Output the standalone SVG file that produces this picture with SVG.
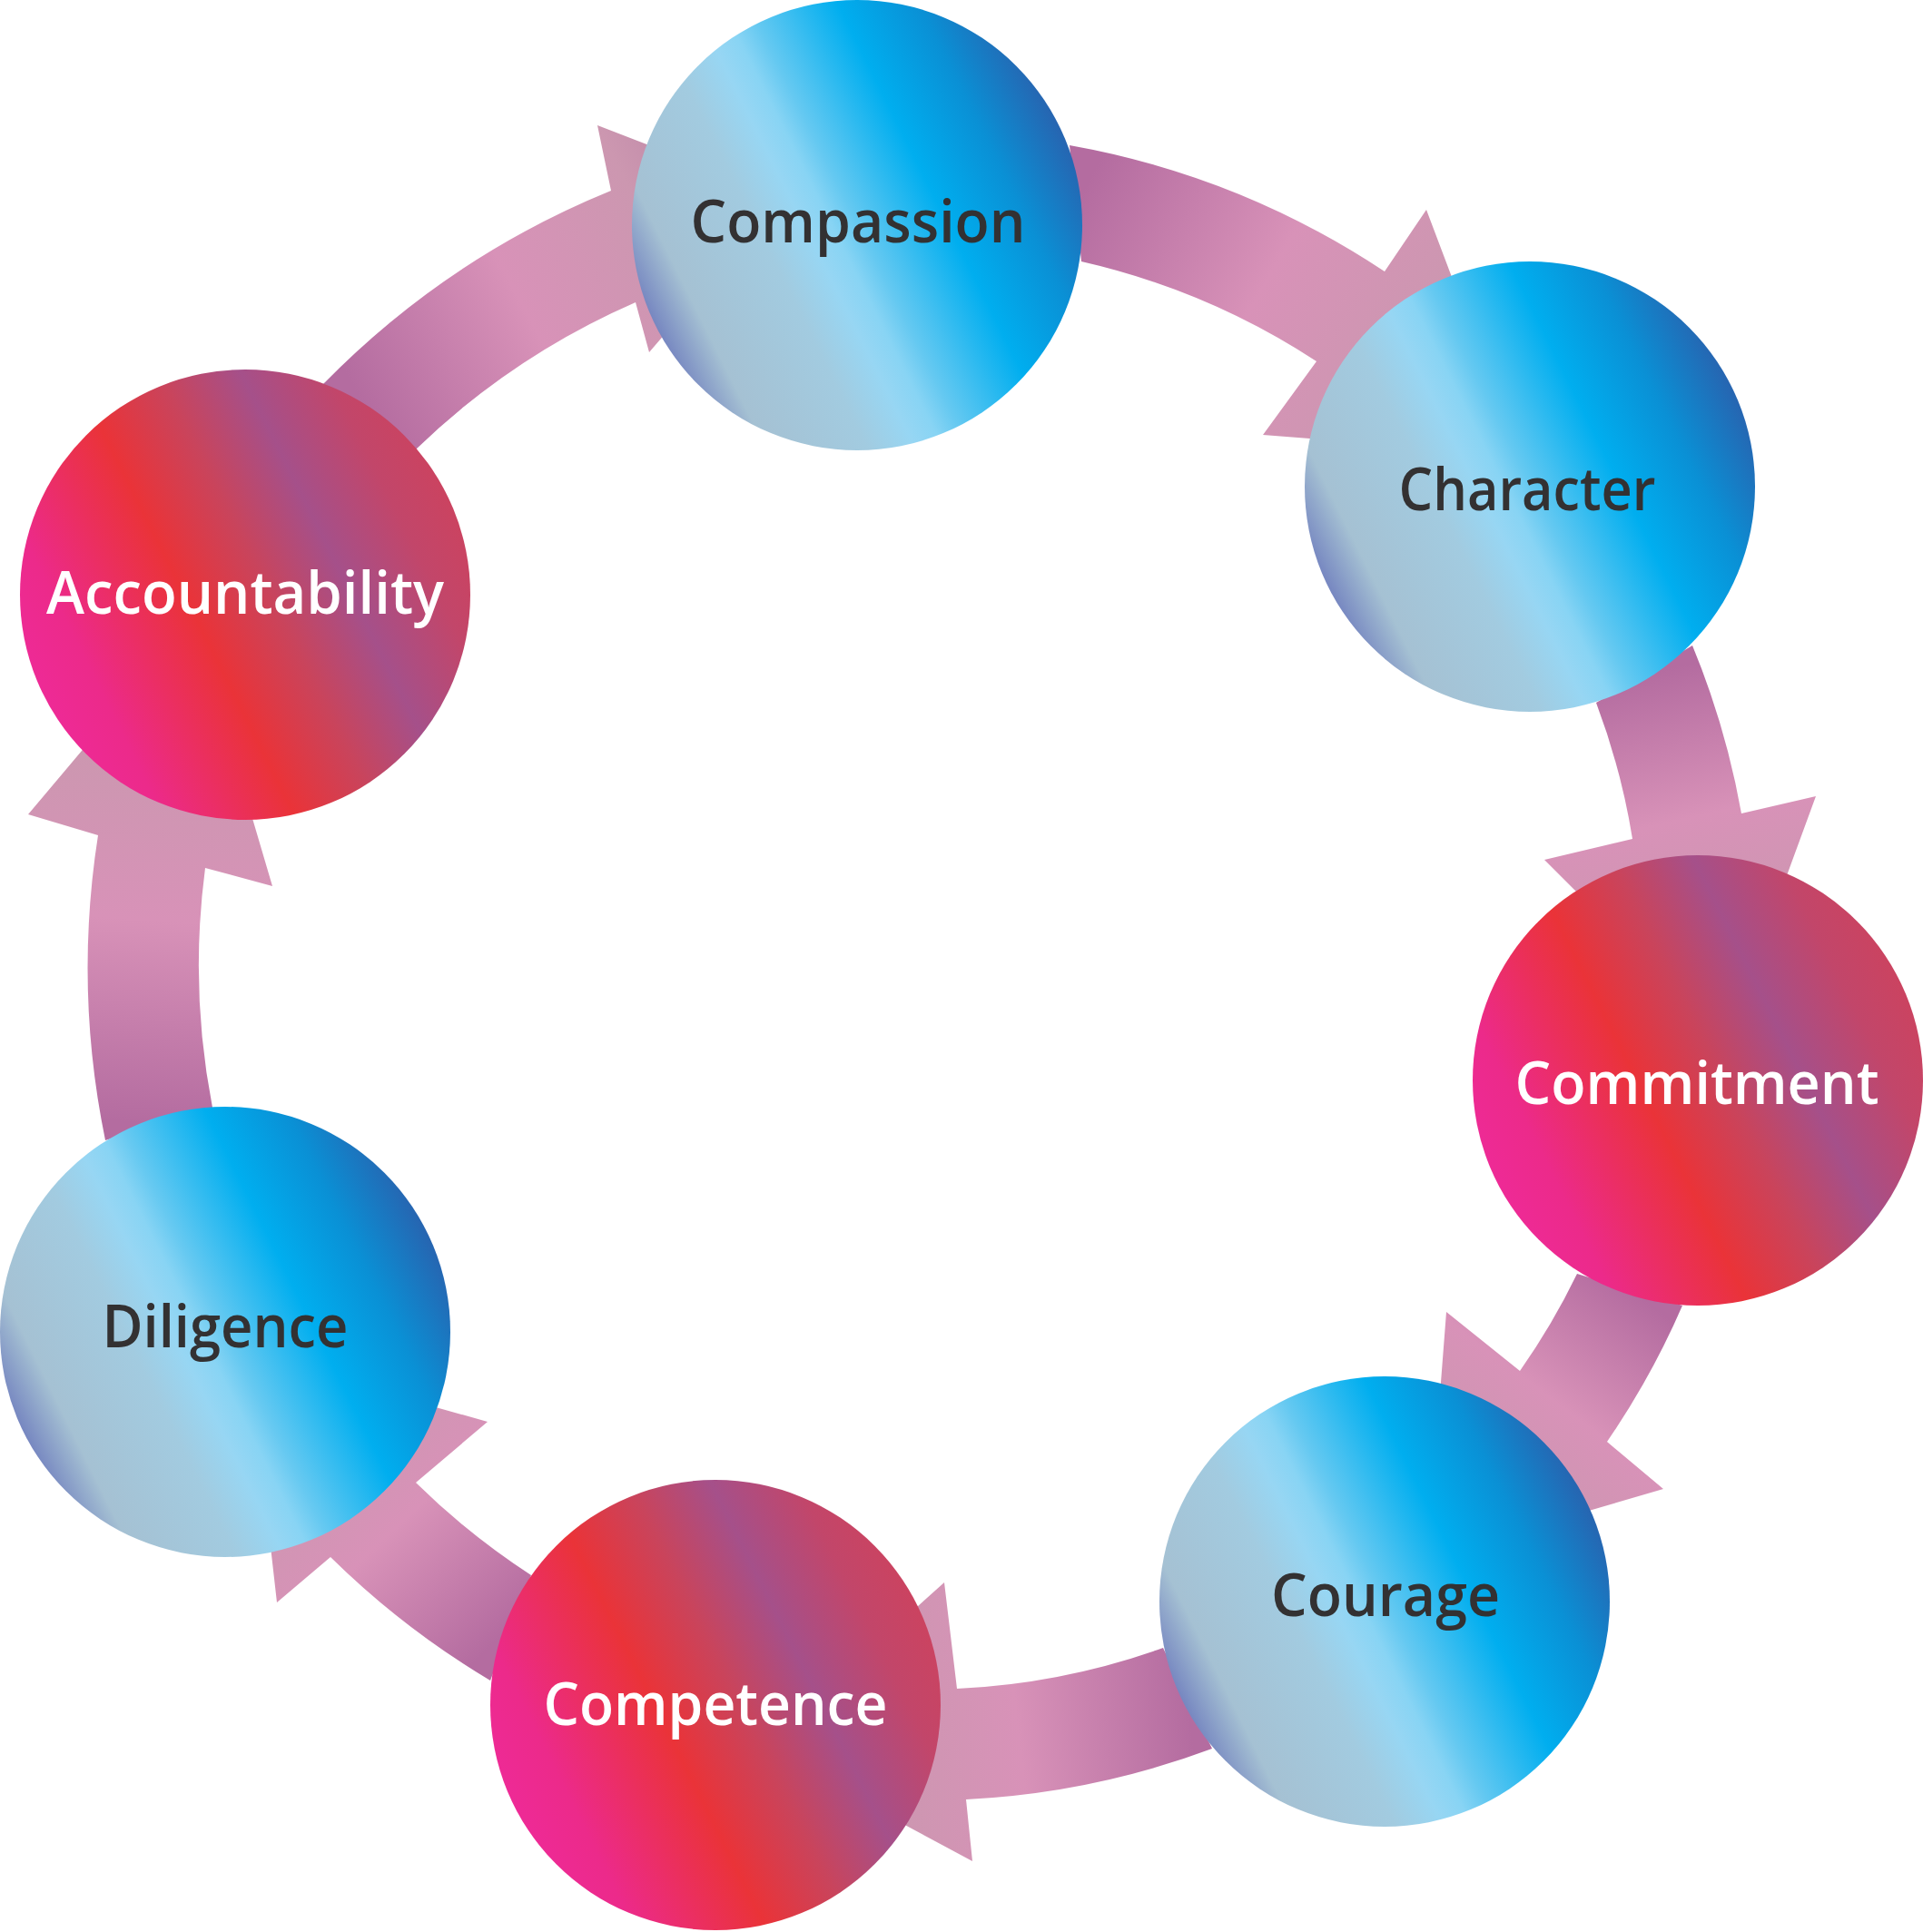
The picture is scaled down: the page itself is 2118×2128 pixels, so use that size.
<svg xmlns="http://www.w3.org/2000/svg" width="2118" height="2128" viewBox="0 0 2118 2128">
<defs>
<style>
.lbl{font-family:"Open Sans","Noto Sans","Liberation Sans",sans-serif;font-size:66px;font-weight:600;text-anchor:middle}
.dark{fill:#333132}
.light{fill:#ffffff}
.arrow{stroke:none}
</style>
<linearGradient id="blue" x1="0.05" y1="0.725" x2="0.95" y2="0.275">
<stop offset="0" stop-color="#7585c0"/>
<stop offset="0.1" stop-color="#a5c1d3"/>
<stop offset="0.3" stop-color="#a2cbe0"/>
<stop offset="0.395" stop-color="#97d6f3"/>
<stop offset="0.45" stop-color="#88d4f4"/>
<stop offset="0.5" stop-color="#66c9f1"/>
<stop offset="0.68" stop-color="#00aeef"/>
<stop offset="0.84" stop-color="#0a90d5"/>
<stop offset="1" stop-color="#2764b0"/>
</linearGradient>
<linearGradient id="red" x1="0.05" y1="0.725" x2="0.95" y2="0.275">
<stop offset="0" stop-color="#ee2a96"/>
<stop offset="0.12" stop-color="#ec2a8a"/>
<stop offset="0.38" stop-color="#ea3338"/>
<stop offset="0.55" stop-color="#c9445c"/>
<stop offset="0.71" stop-color="#a5508a"/>
<stop offset="0.88" stop-color="#c2466a"/>
<stop offset="1" stop-color="#cb4360"/>
</linearGradient>
<linearGradient id="astops">
<stop offset="0" stop-color="#b46ca0"/>
<stop offset="0.4" stop-color="#d892b8"/>
<stop offset="0.72" stop-color="#cc97b0"/>
<stop offset="1" stop-color="#b67ea2"/>
</linearGradient>
<linearGradient id="g1" href="#astops" gradientUnits="userSpaceOnUse" x1="407" y1="459" x2="862" y2="217"/>
<linearGradient id="g2" href="#astops" gradientUnits="userSpaceOnUse" x1="1185" y1="224" x2="1673" y2="501"/>
<linearGradient id="g3" href="#astops" gradientUnits="userSpaceOnUse" x1="1811" y1="742" x2="1901" y2="1147"/>
<linearGradient id="g4" href="#astops" gradientUnits="userSpaceOnUse" x1="1795" y1="1420" x2="1572" y2="1716"/>
<linearGradient id="g5" href="#astops" gradientUnits="userSpaceOnUse" x1="1308" y1="1870" x2="838" y2="1925"/>
<linearGradient id="g6" href="#astops" gradientUnits="userSpaceOnUse" x1="562" y1="1793" x2="274" y2="1492"/>
<linearGradient id="g7" href="#astops" gradientUnits="userSpaceOnUse" x1="175" y1="1238" x2="213" y2="681"/>
</defs>
<rect width="2118" height="2128" fill="#ffffff"/>
<g id="connectors">
<path class="arrow" fill="url(#g1)" d="M 458 495 L 356 423 A 940 940 0 0 1 673 210 L 658 138 L 862 217 L 715 388 L 700 333 A 818 818 0 0 0 458 495 Z"/>
<path class="arrow" fill="url(#g2)" d="M 1191 288 L 1178 160 A 920 920 0 0 1 1525 299 L 1571 231 L 1673 501 L 1391 479 L 1450 398 A 796 796 0 0 0 1191 288 Z"/>
<path class="arrow" fill="url(#g3)" d="M 1758 774 L 1864 711 A 898 898 0 0 1 1918 896 L 2000 877 L 1901 1147 L 1701 947 L 1798 924 A 775 775 0 0 0 1758 774 Z"/>
<path class="arrow" fill="url(#g4)" d="M 1737 1403 L 1853 1438 A 890 890 0 0 1 1770 1588 L 1832 1640 L 1572 1716 L 1593 1445 L 1674 1510 A 770 770 0 0 0 1737 1403 Z"/>
<path class="arrow" fill="url(#g5)" d="M 1281 1815 L 1335 1926 A 904 904 0 0 1 1064 1982 L 1071 2050 L 838 1925 L 1040 1743 L 1054 1860 A 782 782 0 0 0 1281 1815 Z"/>
<path class="arrow" fill="url(#g6)" d="M 585 1735 L 540 1851 A 927 927 0 0 1 364 1715 L 305 1765 L 274 1492 L 537 1566 L 458 1633 A 804 804 0 0 0 585 1735 Z"/>
<path class="arrow" fill="url(#g7)" d="M 234 1220 L 116 1256 A 943 943 0 0 1 108 920 L 31 897 L 213 681 L 300 976 L 226 956 A 821 821 0 0 0 234 1220 Z"/>
</g>
<g id="compassion">
<circle cx="944" cy="248" r="248" fill="url(#blue)"/>
<text class="lbl dark" x="945" y="267" textLength="369" lengthAdjust="spacingAndGlyphs">Compassion</text>
</g>
<g id="character">
<circle cx="1685" cy="536" r="248" fill="url(#blue)"/>
<text class="lbl dark" x="1682" y="562" textLength="283" lengthAdjust="spacingAndGlyphs">Character</text>
</g>
<g id="commitment">
<circle cx="1870" cy="1190" r="248" fill="url(#red)"/>
<text class="lbl light" x="1869" y="1216" textLength="401" lengthAdjust="spacingAndGlyphs">Commitment</text>
</g>
<g id="courage">
<circle cx="1525" cy="1764" r="248" fill="url(#blue)"/>
<text class="lbl dark" x="1526" y="1780" textLength="252" lengthAdjust="spacingAndGlyphs">Courage</text>
</g>
<g id="competence">
<circle cx="788" cy="1878" r="248" fill="url(#red)"/>
<text class="lbl light" x="788" y="1900" textLength="379" lengthAdjust="spacingAndGlyphs">Competence</text>
</g>
<g id="diligence">
<circle cx="248" cy="1467" r="248" fill="url(#blue)"/>
<text class="lbl dark" x="248" y="1484" textLength="271" lengthAdjust="spacingAndGlyphs">Diligence</text>
</g>
<g id="accountability">
<circle cx="270" cy="655" r="248" fill="url(#red)"/>
<text class="lbl light" x="270" y="676" textLength="438" lengthAdjust="spacingAndGlyphs">Accountability</text>
</g>
</svg>
